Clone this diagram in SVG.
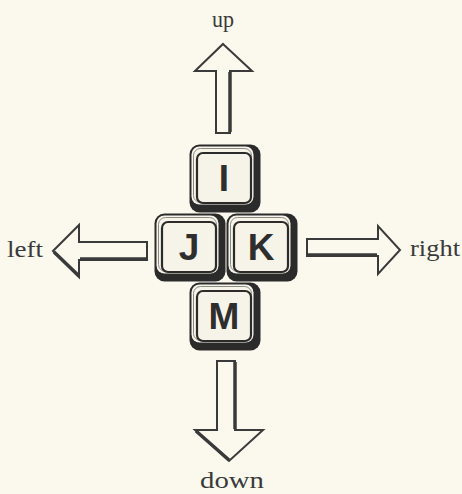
<svg xmlns="http://www.w3.org/2000/svg" xmlns:xlink="http://www.w3.org/1999/xlink" width="462" height="494" viewBox="0 0 462 494">
  <style>
    .lbl { font-family: "Liberation Serif", "Times New Roman", serif; font-size: 23px; fill: #3a3a3a; }
    .key-letter { font-family: "Liberation Sans", Arial, sans-serif; font-weight: bold; font-size: 37px; fill: #2e2e2e; text-anchor: middle; }
    .arrow { fill: #fbf9ee; stroke: #3a3a3a; stroke-width: 2; stroke-linejoin: miter; }
    .heavy { fill: none; stroke: #3a3a3a; stroke-width: 3.5; stroke-linecap: butt; }
  </style>
  <defs>
    <g id="keycap">
      <rect x="0.5" y="0.5" width="71" height="68" rx="10" fill="#2b2b2b"/>
      <rect x="2.5" y="2.5" width="62" height="58" rx="8" fill="#f7f5ea"/>
      <rect x="4.5" y="4.5" width="58" height="54" rx="7" fill="none" stroke="#8a8a84" stroke-width="1"/>
      <rect x="8" y="9" width="54" height="50" rx="6" fill="#f6f3e8" stroke="#2b2b2b" stroke-width="2.2"/>
    </g>
  </defs>
  <rect width="462" height="494" fill="#fbf9ee"/>

  <g id="connectors">
    <g id="arrow-up">
      <polygon class="arrow" points="223,44 252,71 230,71 230,133 216,133 216,71 195,71"/>
      <path class="heavy" d="M230,72 L230,132"/>
    </g>
    <g id="arrow-down">
      <polygon class="arrow" points="217,361 235,361 235,430 263,430 229,461 195,430 217,430"/>
      <path class="heavy" d="M196,431 L229,460 M235,362 L235,429"/>
    </g>
    <g id="arrow-left">
      <polygon class="arrow" points="53,251 79,225 79,242 147,242 147,260 79,260 79,277"/>
      <path class="heavy" d="M54,252 L79,276 M80,259 L146,259"/>
    </g>
    <g id="arrow-right">
      <polygon class="arrow" points="307,239 378,239 378,226 400,250 378,274 378,256 307,256"/>
      <path class="heavy" d="M308,255 L377,255"/>
    </g>
  </g>

  <g id="key-I">
    <use xlink:href="#keycap" x="189" y="144"/>
    <text class="key-letter" x="224" y="191">I</text>
  </g>
  <g id="key-J">
    <use xlink:href="#keycap" x="154" y="213"/>
    <text class="key-letter" x="189" y="260">J</text>
  </g>
  <g id="key-K">
    <use xlink:href="#keycap" x="226" y="213"/>
    <text class="key-letter" x="261" y="260">K</text>
  </g>
  <g id="key-M">
    <use xlink:href="#keycap" x="189" y="282"/>
    <text class="key-letter" x="224" y="329">M</text>
  </g>

  <g id="labels">
    <text class="lbl" x="212" y="27" textLength="22" lengthAdjust="spacingAndGlyphs">up</text>
    <text class="lbl" x="7" y="257" textLength="36" lengthAdjust="spacingAndGlyphs">left</text>
    <text class="lbl" x="410" y="256" textLength="50" lengthAdjust="spacingAndGlyphs">right</text>
    <text class="lbl" x="200" y="488" textLength="64" lengthAdjust="spacingAndGlyphs">down</text>
  </g>
</svg>
